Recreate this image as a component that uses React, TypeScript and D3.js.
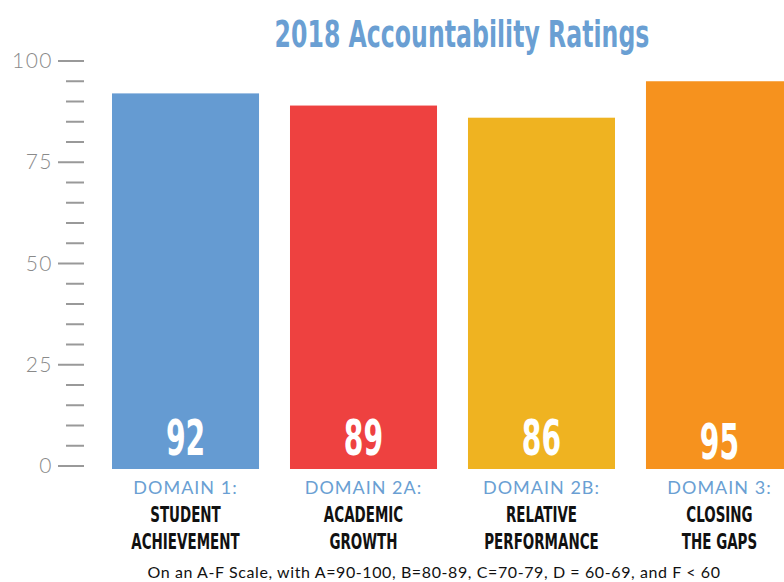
import * as d3 from "d3";
import { useEffect, useRef } from "react";

const domains = ["DOMAIN 1:", "DOMAIN 2A:", "DOMAIN 2B:", "DOMAIN 3:"];
const names = [
  ["STUDENT", "ACHIEVEMENT"],
  ["ACADEMIC", "GROWTH"],
  ["RELATIVE", "PERFORMANCE"],
  ["CLOSING", "THE GAPS"],
];
const scores = [92, 89, 86, 95];
const colors = ["#659bd2", "#ee4140", "#efb321", "#f6921e"];
const majorTicks = [0, 25, 50, 75, 100];

const W = 784;
const H = 582;
const condensed = "'DejaVu Sans Condensed', 'Liberation Sans Narrow', sans-serif";
const plain = "Lato, 'Open Sans', sans-serif";

// horizontal squeeze around an x position, to fake a condensed face
const squeeze = (cx: number, k: number) => `translate(${cx},0) scale(${k},1) translate(${-cx},0)`;

export default function App() {
  const svgRef = useRef<SVGSVGElement>(null);

  useEffect(() => {
    const svg = d3.select(svgRef.current);
    svg.selectAll("*").remove();

    const y = d3.scaleLinear().domain([0, 100]).range([466, 61]);
    const x = d3.scaleBand<string>()
      .domain(domains)
      .range([112, 793])
      .paddingInner(0.174)
      .paddingOuter(0);

    // title
    svg.append("text")
      .attr("x", 462)
      .attr("y", 47)
      .attr("text-anchor", "middle")
      .attr("font-family", condensed)
      .attr("font-weight", "bold")
      .attr("font-size", 37)
      .attr("fill", "#6a9fd3")
      .attr("transform", squeeze(462, 0.71))
      .text("2018 Accountability Ratings");

    // axis ticks
    const axis = svg.append("g");
    const minor = d3.range(0, 101, 5);
    axis.selectAll("line")
      .data(minor)
      .enter()
      .append("line")
      .attr("x1", (d) => (d % 25 === 0 ? 58 : 66))
      .attr("x2", 84)
      .attr("y1", (d) => y(d))
      .attr("y2", (d) => y(d))
      .attr("stroke", "#999")
      .attr("stroke-width", 2);

    axis.selectAll("text")
      .data(majorTicks)
      .enter()
      .append("text")
      .attr("x", 53)
      .attr("y", (d) => y(d) + 7)
      .attr("text-anchor", "end")
      .attr("font-family", plain)
      .attr("font-weight", 300)
      .attr("font-size", 21)
      .attr("letter-spacing", 1.5)
      .attr("fill", "#8a8a8a")
      .text((d) => d);

    // bars
    const bars = svg.append("g");
    bars.selectAll("rect")
      .data(scores)
      .enter()
      .append("rect")
      .attr("x", (d, i) => x(domains[i])!)
      .attr("y", (d) => y(d))
      .attr("width", x.bandwidth())
      .attr("height", (d) => 469 - y(d))
      .attr("fill", (d, i) => colors[i]);

    const cx = (i: number) => x(domains[i])! + x.bandwidth() / 2;

    bars.selectAll("text.val")
      .data(scores)
      .enter()
      .append("text")
      .attr("class", "val")
      .attr("x", (d, i) => cx(i))
      .attr("y", (d, i) => (i === 3 ? 459 : 455))
      .attr("text-anchor", "middle")
      .attr("font-family", condensed)
      .attr("font-weight", "bold")
      .attr("font-size", 49)
      .attr("fill", "#fff")
      .attr("transform", (d, i) => squeeze(cx(i), 0.64))
      .text((d) => d);

    // category labels
    const labels = svg.append("g");
    domains.forEach((dom, i) => {
      labels.append("text")
        .attr("x", cx(i))
        .attr("y", 494)
        .attr("text-anchor", "middle")
        .attr("font-family", plain)
        .attr("font-size", 18)
        .attr("letter-spacing", 1)
        .attr("fill", "#6a9fd3")
        .text(dom);
      names[i].forEach((line, j) => {
        labels.append("text")
          .attr("x", cx(i))
          .attr("y", 522 + j * 27)
          .attr("text-anchor", "middle")
          .attr("font-family", condensed)
          .attr("font-weight", "bold")
          .attr("font-size", 22)
          .attr("fill", "#111")
          .attr("transform", squeeze(cx(i), 0.68))
          .text(line);
      });
    });

    svg.append("text")
      .attr("x", 434)
      .attr("y", 578)
      .attr("text-anchor", "middle")
      .attr("font-family", plain)
      .attr("font-size", 16)
      .attr("letter-spacing", 0.6)
      .attr("fill", "#111")
      .text("On an A-F Scale, with A=90-100, B=80-89, C=70-79, D = 60-69, and F < 60");
  }, []);

  return (
    <svg
      ref={svgRef}
      width={W}
      height={H}
      style={{ position: "absolute", left: 0, top: 0, background: "#fff" }}
    />
  );
}
